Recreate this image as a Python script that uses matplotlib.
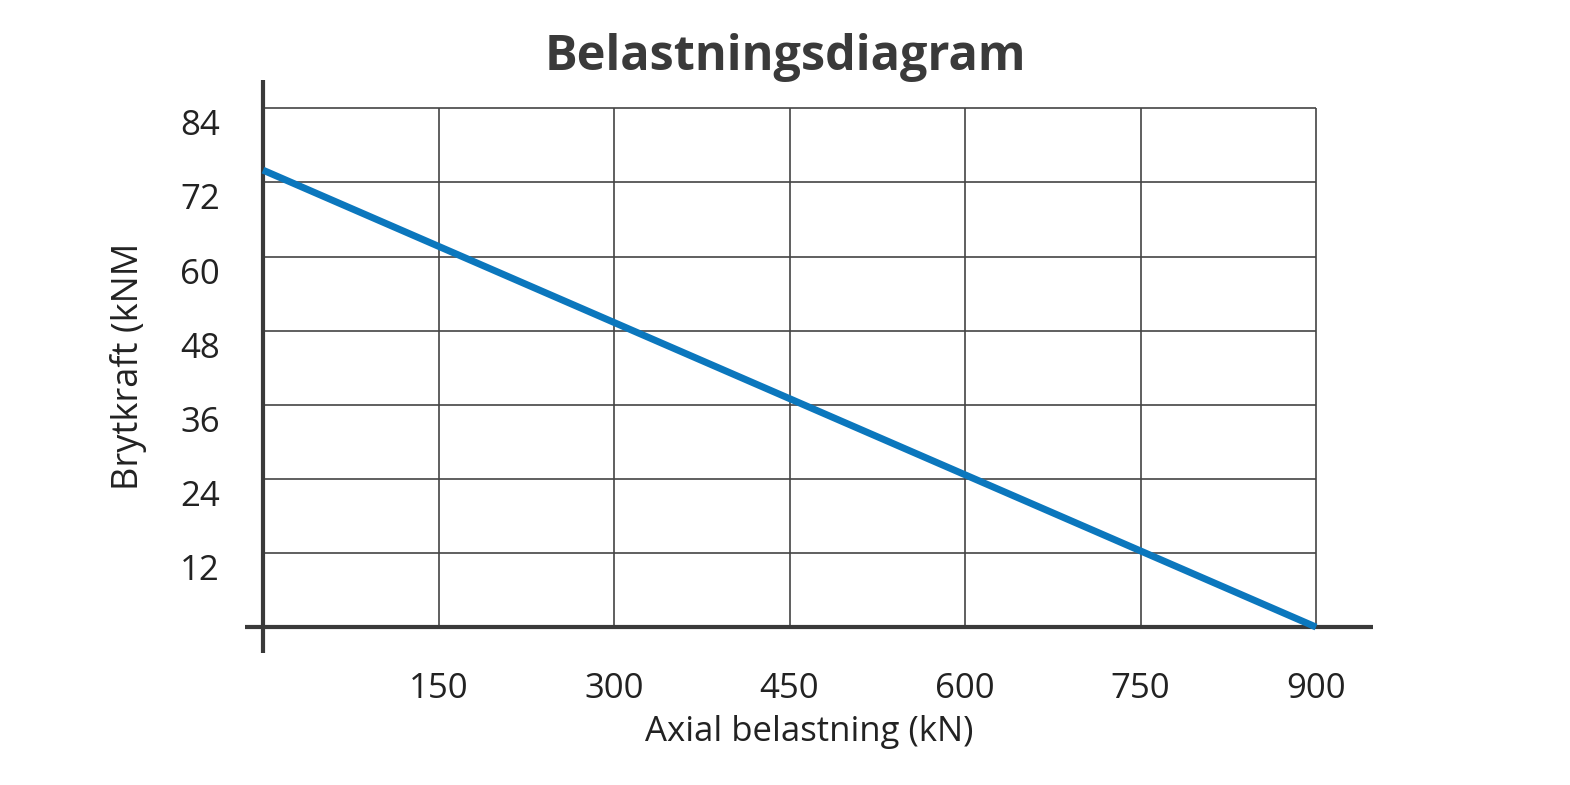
import matplotlib
matplotlib.use("Agg")
import matplotlib.pyplot as plt
import matplotlib.transforms as mtrans

x_vals = [0, 900]
y_vals = [74, 0]
x_ticks = [150, 300, 450, 600, 750, 900]
y_ticks = [12, 24, 36, 48, 60, 72, 84]

plt.rcParams['font.family'] = ['Open Sans', 'DejaVu Sans']
fig = plt.figure(figsize=(15.7, 7.85), dpi=100)
W, H = 1570, 785
ax = fig.add_axes([245/W, 1-653/H, (1373-245)/W, (653-80)/H])
ax.set_xlim(-15.4, 948.7)
ax.set_ylim(-4.2, 88.6)

ax.vlines(x_ticks, 0, 84, color='#444444', lw=1.2, zorder=1)
ax.hlines(y_ticks, 0, 900, color='#444444', lw=1.2, zorder=1)
ax.plot(x_vals, y_vals, color='#0b77bd', lw=5, solid_capstyle='butt', zorder=3)

for s in ['top', 'right', 'left', 'bottom']:
    ax.spines[s].set_visible(False)
ax.axvline(0, color='#3a3a3a', lw=3)
ax.axhline(0, color='#3a3a3a', lw=3)

ax.set_xticks(x_ticks)
ax.set_yticks(y_ticks)
ax.tick_params(length=0, labelsize=25, colors='#222222', pad=18)
ax.tick_params(axis='x', pad=14)
off = mtrans.ScaledTranslation(0, -14/100, fig.dpi_scale_trans)
for lab in ax.get_yticklabels():
    lab.set_transform(lab.get_transform() + off)
ax.set_xlabel('Axial belastning (kN)', fontsize=25, color='#222222', labelpad=6)
ax.set_ylabel('Brytkraft (kNM', fontsize=26, color='#222222', labelpad=24)
fig.text(785/W, 1-58/H, 'Belastningsdiagram', ha='center', va='center',
         fontsize=35, fontweight='bold', color='#3a3a3a')
fig.savefig('out.png', dpi=100, facecolor='white')
